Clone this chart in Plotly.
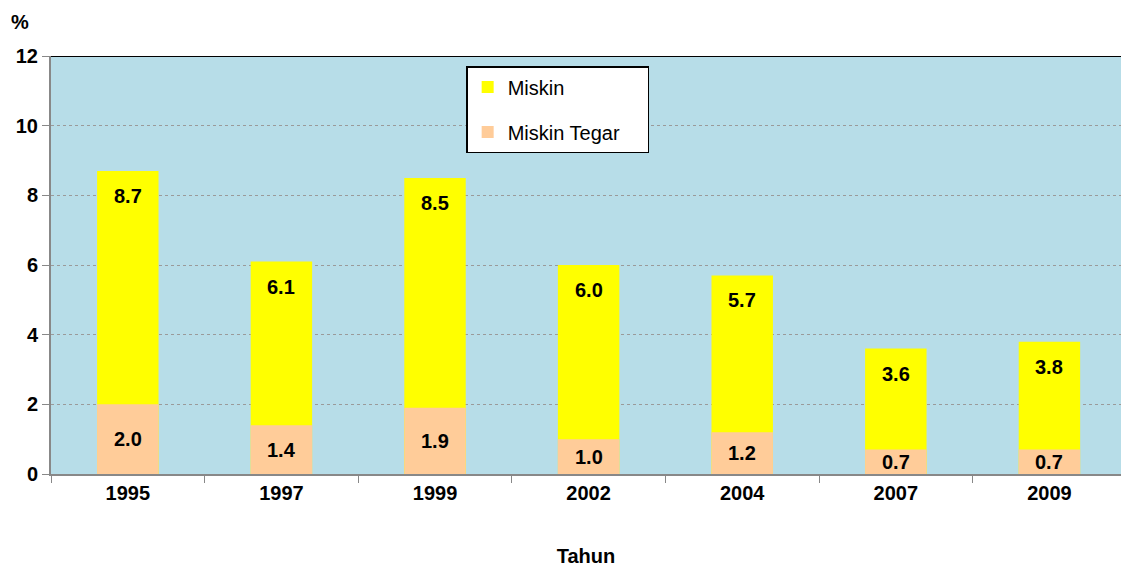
import plotly.graph_objects as go

years = ["1995", "1997", "1999", "2002", "2004", "2007", "2009"]
miskin = [8.7, 6.1, 8.5, 6.0, 5.7, 3.6, 3.8]
miskin_tegar = [2.0, 1.4, 1.9, 1.0, 1.2, 0.7, 0.7]
y_ticks = [0, 2, 4, 6, 8, 10, 12]

FONT = "Liberation Sans, Arial, sans-serif"
FS = 20

fig = go.Figure()
fig.add_trace(go.Bar(
    x=years, y=miskin, name="Miskin", marker=dict(color="#FFFF00", line=dict(width=0)),
    width=0.4, legendgroup="a",
))
fig.add_trace(go.Bar(
    x=years, y=miskin_tegar, name="Miskin Tegar&nbsp;&nbsp;&nbsp;&nbsp;",
    marker=dict(color="#FFCC99", line=dict(width=0)),
    width=0.4, legendgroup="b",
))

for i, v in enumerate(miskin):
    fig.add_annotation(x=i, y=v, xref="x", yref="y", text=f"<b>{v:.1f}</b>", showarrow=False,
                       yshift=-25, yanchor="middle",
                       font=dict(family=FONT, size=FS, color="black"))
for i, v in enumerate(miskin_tegar):
    fig.add_annotation(x=i, y=v / 2, xref="x", yref="y", text=f"<b>{v:.1f}</b>", showarrow=False,
                       yanchor="middle",
                       font=dict(family=FONT, size=FS, color="black"))

fig.add_annotation(xref="paper", yref="paper", x=-0.029, y=1.0, yshift=34, text="<b>%</b>",
                   showarrow=False, xanchor="center", yanchor="middle",
                   font=dict(family=FONT, size=FS, color="black"))

fig.add_shape(type="line", xref="paper", yref="y", x0=0, x1=1, y0=12, y1=12,
              line=dict(color="black", width=2))

fig.update_layout(
    width=1121, height=567,
    barmode="overlay",
    paper_bgcolor="white", plot_bgcolor="#B7DDE8",
    margin=dict(l=51, r=0, t=56, b=93, autoexpand=False),
    font=dict(family=FONT, color="black"),
    showlegend=True,
    legend=dict(
        x=0.388, y=0.976, xanchor="left", yanchor="top",
        bgcolor="white", bordercolor="black", borderwidth=1.5,
        font=dict(family=FONT, size=FS, color="black"),
        traceorder="grouped", tracegroupgap=16,
        itemwidth=30,
    ),
    xaxis=dict(
        type="category", tickson="boundaries", ticks="outside", ticklen=7, tickcolor="#888888",
        showline=True, linecolor="#888888", linewidth=2, showgrid=False, automargin=False,
        tickfont=dict(family=FONT, size=FS, color="black", weight="bold"),
        title=dict(text="<b>Tahun</b>", font=dict(family=FONT, size=FS, color="black"), standoff=54),
        range=[-0.5, 6.466],
    ),
    yaxis=dict(
        range=[0, 12], tickvals=y_ticks, ticks="outside", ticklen=7, tickcolor="#888888",
        showline=True, linecolor="#888888", linewidth=2, automargin=False,
        showgrid=True, gridcolor="#9a9a9a", griddash="dot", gridwidth=1,
        tickfont=dict(family=FONT, size=FS, color="black", weight="bold"),
        zeroline=False,
    ),
)

fig.write_html(
    "out.html",
    config={"responsive": False, "displayModeBar": False},
    post_script="document.body.style.margin='0';document.body.style.overflow='hidden';",
)
